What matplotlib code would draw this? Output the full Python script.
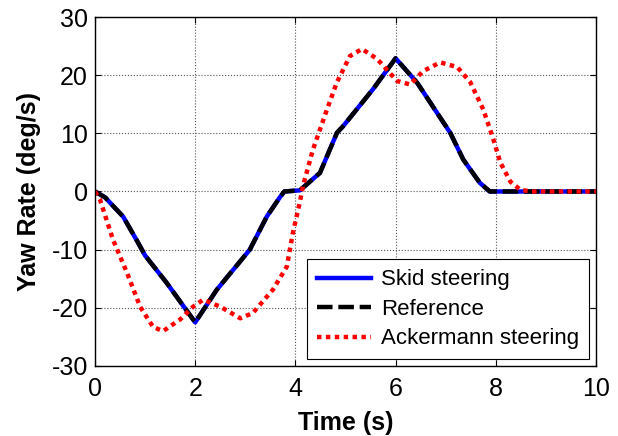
import matplotlib
matplotlib.use("Agg")
import matplotlib.pyplot as plt

# Reference / skid steering yaw rate
t_ref = [0.0, 0.2, 0.56, 0.84, 1.0, 1.43, 2.0, 2.43, 3.09, 3.43, 3.69, 3.78, 4.09, 4.49, 4.83, 4.95, 5.55, 6.0, 6.43, 7.09, 7.35, 7.68, 7.88, 10.0]
v_ref = [0.0, -1.0, -4.3, -8.5, -11.0, -15.7, -22.5, -16.9, -10.0, -4.3, -1.0, 0.0, 0.2, 3.2, 10.1, 11.2, 17.6, 22.9, 18.7, 10.1, 5.5, 1.5, 0.0, 0.0]
v_skid = v_ref

# Ackermann steering yaw rate
t_ack = [0.0, 0.1, 0.36, 0.64, 0.9, 1.16, 1.36, 1.7, 1.96, 2.16, 2.5, 2.9, 3.15, 3.55, 3.83, 3.95, 4.09, 4.15, 4.35, 4.63, 4.83, 5.09, 5.33, 5.63, 6.03, 6.29, 6.55, 6.89, 7.23, 7.49, 7.75, 7.95, 8.09, 8.29, 8.49, 8.7, 10.0]
v_ack = [0.0, -1.4, -8.3, -14.0, -19.8, -23.3, -24.0, -22.0, -19.8, -18.6, -19.8, -21.8, -20.9, -16.9, -12.9, -7.1, -1.8, 0.9, 7.2, 14.1, 18.8, 23.3, 24.5, 22.8, 19.0, 18.4, 20.7, 22.2, 21.4, 18.8, 14.1, 9.0, 5.0, 1.7, 0.3, 0.0, 0.0]

xticks = [0, 2, 4, 6, 8, 10]
yticks = [-30, -20, -10, 0, 10, 20, 30]

plt.rcParams['font.family'] = ['Liberation Sans', 'DejaVu Sans']
plt.rcParams['axes.unicode_minus'] = False

fig = plt.figure(figsize=(6.18, 4.36), dpi=100)
ax = fig.add_axes([0.1537, 0.1606, 0.8107, 0.8004])

ax.plot(t_ref, v_skid, color='#0000ff', lw=3.2, solid_joinstyle='round', label='Skid steering')
ax.plot(t_ref, v_ref, color='black', lw=3.2, dashes=(3.5, 1.3), label='Reference')
ax.plot(t_ack, v_ack, color='#ff0000', lw=3.2, dashes=(1.0, 1.0), label='Ackermann steering')

ax.set_xlim(0, 10)
ax.set_ylim(-30, 30)
ax.set_xticks(xticks)
ax.set_yticks(yticks)
ax.tick_params(direction='in', top=True, right=True, labelsize=18, length=4, width=0.8, pad=5)
ax.tick_params(axis='x', pad=8)
ax.grid(True, color='#555555', linestyle=':', linewidth=0.8)
for s in ax.spines.values():
    s.set_linewidth(1.0)

ax.set_xlabel('Time (s)', fontsize=18, fontweight='bold', labelpad=7)
ax.set_ylabel('Yaw Rate (deg/s)', fontsize=18, fontweight='bold', labelpad=8)

leg = ax.legend(loc='lower right', fontsize=16, fancybox=False, framealpha=1,
                edgecolor='black', borderpad=0.45, handlelength=2.45, labelspacing=0.38,
                borderaxespad=0.3, handletextpad=0.45)
leg.get_frame().set_linewidth(0.8)

fig.savefig('out.png', dpi=100)
